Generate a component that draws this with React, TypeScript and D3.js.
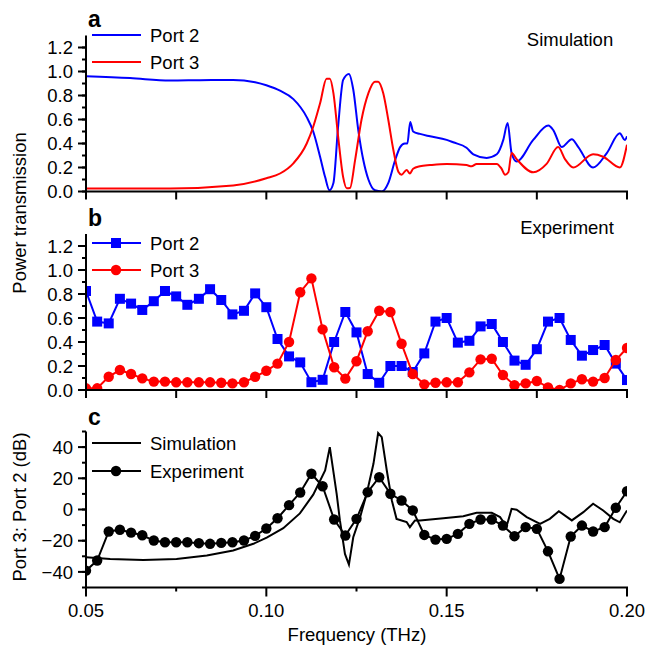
import { useRef, useEffect } from 'react';
import * as d3 from 'd3';

// simulation, panel a
const simP2Freq = [0.05, 0.0622, 0.0733, 0.0816, 0.0908, 0.0969, 0.1, 0.1038, 0.1075, 0.1112, 0.113, 0.1149, 0.1163, 0.1175, 0.1186, 0.1199, 0.1213, 0.1229, 0.1241, 0.1255, 0.1269, 0.1283, 0.1301, 0.132, 0.1338, 0.1357, 0.1371, 0.1384, 0.1391, 0.1399, 0.1407, 0.1426, 0.1454, 0.15, 0.1518, 0.1555, 0.1574, 0.1611, 0.1639, 0.1657, 0.1669, 0.168, 0.1694, 0.174, 0.1782, 0.1796, 0.1819, 0.1847, 0.1865, 0.1906, 0.1944, 0.198, 0.1994, 0.2];
const simP2 = [0.96, 0.945, 0.925, 0.928, 0.93, 0.91, 0.885, 0.84, 0.77, 0.62, 0.5, 0.29, 0.12, 0.01, 0.07, 0.54, 0.93, 0.98, 0.85, 0.51, 0.26, 0.1, 0.01, 0.0, 0.07, 0.26, 0.37, 0.4, 0.4, 0.58, 0.5, 0.48, 0.46, 0.43, 0.41, 0.365, 0.31, 0.28, 0.31, 0.43, 0.57, 0.32, 0.25, 0.43, 0.55, 0.51, 0.37, 0.435, 0.37, 0.2, 0.32, 0.485, 0.43, 0.46];
const simP3Freq = [0.05, 0.0733, 0.0908, 0.1, 0.1038, 0.1075, 0.1112, 0.113, 0.1149, 0.1167, 0.1176, 0.1186, 0.1199, 0.1213, 0.1223, 0.1232, 0.1246, 0.1264, 0.1283, 0.1301, 0.131, 0.1324, 0.1338, 0.1352, 0.1366, 0.1375, 0.1389, 0.1398, 0.1407, 0.1426, 0.1454, 0.15, 0.1555, 0.1569, 0.1583, 0.1639, 0.1652, 0.1662, 0.1671, 0.168, 0.1694, 0.174, 0.1777, 0.1809, 0.1828, 0.1851, 0.1906, 0.1934, 0.198, 0.2];
const simP3 = [0.025, 0.025, 0.05, 0.11, 0.15, 0.235, 0.4, 0.54, 0.735, 0.94, 0.94, 0.82, 0.46, 0.12, 0.027, 0.03, 0.26, 0.6, 0.82, 0.915, 0.915, 0.82, 0.6, 0.35, 0.165, 0.14, 0.18, 0.15, 0.19, 0.21, 0.22, 0.23, 0.22, 0.21, 0.23, 0.23, 0.19, 0.14, 0.16, 0.32, 0.27, 0.16, 0.23, 0.37, 0.27, 0.2, 0.31, 0.29, 0.2, 0.39];

// experiment, panels b and c
const expFreq = [0.05, 0.0531, 0.0563, 0.0594, 0.0625, 0.0656, 0.0688, 0.0719, 0.075, 0.0781, 0.0813, 0.0844, 0.0875, 0.0906, 0.0938, 0.0969, 0.1, 0.1031, 0.1063, 0.1094, 0.1125, 0.1156, 0.1188, 0.1219, 0.125, 0.1281, 0.1313, 0.1344, 0.1375, 0.1406, 0.1438, 0.1469, 0.15, 0.1531, 0.1563, 0.1594, 0.1625, 0.1656, 0.1688, 0.1719, 0.175, 0.1781, 0.1813, 0.1844, 0.1875, 0.1906, 0.1938, 0.1969, 0.2];
const expP2 = [0.825, 0.57, 0.555, 0.76, 0.72, 0.667, 0.74, 0.825, 0.78, 0.71, 0.76, 0.84, 0.75, 0.63, 0.66, 0.805, 0.69, 0.425, 0.28, 0.23, 0.065, 0.085, 0.4, 0.65, 0.48, 0.133, 0.06, 0.2, 0.2, 0.15, 0.305, 0.57, 0.6, 0.395, 0.41, 0.53, 0.55, 0.4, 0.245, 0.21, 0.34, 0.57, 0.6, 0.417, 0.286, 0.333, 0.375, 0.22, 0.083];
const expP3 = [0.014, 0.014, 0.11, 0.167, 0.133, 0.097, 0.07, 0.07, 0.064, 0.064, 0.064, 0.064, 0.06, 0.055, 0.065, 0.11, 0.16, 0.22, 0.4, 0.815, 0.93, 0.505, 0.19, 0.095, 0.24, 0.49, 0.66, 0.65, 0.385, 0.133, 0.047, 0.06, 0.064, 0.064, 0.147, 0.255, 0.26, 0.125, 0.04, 0.055, 0.075, 0.022, 0.0, 0.055, 0.09, 0.07, 0.1, 0.25, 0.35];
const expRatio = [-39.2, -32.7, -14.1, -13.0, -14.8, -16.5, -19.9, -21, -21, -21, -21.6, -22, -21.4, -21, -19.9, -16.9, -12.2, -5.6, 2.8, 10.9, 22.9, 14.9, -6.4, -16.7, -6, 11.1, 20.7, 10.1, 5.8, -0.6, -16.3, -19.3, -18.8, -15.6, -9.2, -6.4, -6.4, -10.3, -17.1, -11.3, -12.4, -26.8, -44.5, -17.3, -10.3, -14.1, -11.3, 1.1, 11.7];

// simulation ratio, panel c
const simRatioFreq = [0.05, 0.0567, 0.0659, 0.0751, 0.0835, 0.0908, 0.0964, 0.1001, 0.1047, 0.1093, 0.113, 0.1163, 0.1176, 0.1195, 0.1204, 0.1218, 0.1229, 0.1241, 0.126, 0.1278, 0.1297, 0.131, 0.132, 0.1334, 0.1348, 0.1361, 0.1375, 0.1389, 0.1398, 0.1412, 0.1426, 0.1491, 0.1546, 0.1583, 0.1625, 0.1648, 0.1666, 0.168, 0.1694, 0.1722, 0.1759, 0.1786, 0.1811, 0.1847, 0.1879, 0.1906, 0.1934, 0.1962, 0.198, 0.2];
const simRatio = [-30.6, -31.7, -32.3, -31.7, -29.5, -26.3, -22, -18, -12, -2.5, 9.5, 25, 40, 10, -7, -28.5, -35.3, -17.8, -4.9, 10, 29.3, 49, 46.4, 25, 5.8, -6, -7, -8, -11.3, -7, -7, -5.6, -4.3, -2.1, -2.1, -4.9, -10.9, 0.4, -0.2, -4.9, -9.2, -6, -1.1, -7, -1.7, 3.7, -0.6, -6, -8.2, -0.6];

const xTicks = [0.05, 0.1, 0.15, 0.2];
const powerTicks = [0, 0.2, 0.4, 0.6, 0.8, 1.0, 1.2];
const dbTicks = [-40, -20, 0, 20, 40];

const BLUE = '#0000ff';
const RED = '#ff0000';
const FONT = "'Liberation Sans', Arial, Helvetica, sans-serif";
const FS = 18.5;

export default function App() {
  const svgRef = useRef<SVGSVGElement>(null);

  useEffect(() => {
    const svg = d3.select(svgRef.current);
    svg.selectAll('*').remove();

    const left = 86, right = 627;
    const x = d3.scaleLinear().domain([0.05, 0.2]).range([left, right]);

    const panels = [
      { id: 'a', y: d3.scaleLinear().domain([0, 1.3]).range([191.5, 35.5]) },
      { id: 'b', y: d3.scaleLinear().domain([0, 1.3]).range([390, 234]) },
      { id: 'c', y: d3.scaleLinear().domain([-50, 50]).range([587.5, 431.5]) },
    ];

    const defs = svg.append('defs');
    panels.forEach(p => {
      const [b, t] = p.y.range();
      defs.append('clipPath').attr('id', 'clip-' + p.id)
        .append('rect').attr('x', left).attr('y', t - 2).attr('width', right - left).attr('height', b - t + 2);
    });

    const line = (ys: d3.ScaleLinear<number, number>, curve = d3.curveLinear) =>
      d3.line<[number, number]>().x(d => x(d[0])).y(d => ys(d[1])).curve(curve);

    const zip = (a: number[], b: number[]) => a.map((v, i) => [v, b[i]] as [number, number]);

    // panel a
    const pa = panels[0];
    const ga = svg.append('g').attr('clip-path', 'url(#clip-a)');
    ga.append('path').attr('d', line(pa.y, d3.curveMonotoneX)(zip(simP2Freq, simP2)))
      .attr('fill', 'none').attr('stroke', BLUE).attr('stroke-width', 2);
    ga.append('path').attr('d', line(pa.y, d3.curveMonotoneX)(zip(simP3Freq, simP3)))
      .attr('fill', 'none').attr('stroke', RED).attr('stroke-width', 2);

    // panel b
    const pb = panels[1];
    const gb = svg.append('g').attr('clip-path', 'url(#clip-b)');
    gb.append('path').attr('d', line(pb.y)(zip(expFreq, expP2)))
      .attr('fill', 'none').attr('stroke', BLUE).attr('stroke-width', 2);
    gb.selectAll('rect.p2').data(zip(expFreq, expP2)).enter().append('rect')
      .attr('x', d => x(d[0]) - 5).attr('y', d => pb.y(d[1]) - 5)
      .attr('width', 10).attr('height', 10).attr('fill', BLUE);
    gb.append('path').attr('d', line(pb.y)(zip(expFreq, expP3)))
      .attr('fill', 'none').attr('stroke', RED).attr('stroke-width', 2);
    gb.selectAll('circle.p3').data(zip(expFreq, expP3)).enter().append('circle')
      .attr('cx', d => x(d[0])).attr('cy', d => pb.y(d[1])).attr('r', 5.2).attr('fill', RED);

    // panel c
    const pc = panels[2];
    const gc = svg.append('g').attr('clip-path', 'url(#clip-c)');
    gc.append('path').attr('d', line(pc.y)(zip(simRatioFreq, simRatio)))
      .attr('fill', 'none').attr('stroke', '#000').attr('stroke-width', 2);
    gc.append('path').attr('d', line(pc.y)(zip(expFreq, expRatio)))
      .attr('fill', 'none').attr('stroke', '#000').attr('stroke-width', 2);
    gc.selectAll('circle.ex').data(zip(expFreq, expRatio)).enter().append('circle')
      .attr('cx', d => x(d[0])).attr('cy', d => pc.y(d[1])).attr('r', 5.2).attr('fill', '#000');

    // axes
    panels.forEach((p, pi) => {
      const [b, t] = p.y.range();
      const g = svg.append('g').attr('stroke', '#000').attr('stroke-width', 2);
      g.append('line').attr('x1', left).attr('x2', left).attr('y1', t).attr('y2', b + 1);
      g.append('line').attr('x1', left - 1).attr('x2', right + 1).attr('y1', b).attr('y2', b);
      // x ticks
      d3.range(0.05, 0.2001, 0.025).forEach((v, i) => {
        const len = pi < 2 ? 8 : (i % 2 === 0 ? 9 : 4);
        g.append('line').attr('x1', x(v)).attr('x2', x(v)).attr('y1', b).attr('y2', b + len);
      });
      // y ticks
      const isDb = pi === 2;
      const minor = isDb ? d3.range(-50, 50.1, 10) : d3.range(0, 1.3, 0.1);
      minor.forEach(v => {
        g.append('line').attr('x1', left - 4).attr('x2', left).attr('y1', p.y(v)).attr('y2', p.y(v));
      });
      const major = isDb ? dbTicks : powerTicks;
      major.forEach(v => {
        g.append('line').attr('x1', left - 8).attr('x2', left).attr('y1', p.y(v)).attr('y2', p.y(v));
      });
      const tl = svg.append('g').attr('font-family', FONT).attr('font-size', FS).attr('fill', '#000');
      major.forEach(v => {
        tl.append('text').attr('x', 73).attr('y', p.y(v)).attr('dy', '0.36em').attr('text-anchor', 'end')
          .text(isDb ? (v < 0 ? '\u2212' + Math.abs(v) : String(v)) : v.toFixed(1));
      });
      svg.append('text').attr('x', 88).attr('y', [27, 226, 425][pi]).attr('font-family', FONT)
        .attr('font-weight', 'bold').attr('font-size', 23).text(p.id);
    });

    // x tick labels and titles
    const xt = svg.append('g').attr('font-family', FONT).attr('font-size', FS).attr('fill', '#000');
    xTicks.forEach(v => {
      xt.append('text').attr('x', x(v)).attr('y', 617).attr('text-anchor', 'middle').text(v.toFixed(2));
    });
    xt.append('text').attr('x', 357).attr('y', 641).attr('text-anchor', 'middle').text('Frequency (THz)');
    xt.append('text').attr('transform', 'translate(26,213) rotate(-90)').attr('text-anchor', 'middle').text('Power transmission');
    xt.append('text').attr('transform', 'translate(26,507) rotate(-90)').attr('text-anchor', 'middle').text('Port 3: Port 2 (dB)');
    xt.append('text').attr('x', 570).attr('y', 46).attr('text-anchor', 'middle').text('Simulation');
    xt.append('text').attr('x', 567).attr('y', 234).attr('text-anchor', 'middle').text('Experiment');

    // legends
    const leg = svg.append('g').attr('font-family', FONT).attr('font-size', FS).attr('fill', '#000');
    const entry = (y: number, color: string, label: string, marker: string | null) => {
      leg.append('line').attr('x1', 92).attr('x2', 141).attr('y1', y).attr('y2', y)
        .attr('stroke', color).attr('stroke-width', 2);
      if (marker === 'square') leg.append('rect').attr('x', 111).attr('y', y - 5).attr('width', 10).attr('height', 10).attr('fill', color);
      if (marker === 'circle') leg.append('circle').attr('cx', 116).attr('cy', y).attr('r', 5.2).attr('fill', color);
      leg.append('text').attr('x', 150).attr('y', y).attr('dy', '0.36em').text(label);
    };
    entry(35, BLUE, 'Port 2', null);
    entry(62, RED, 'Port 3', null);
    entry(243, BLUE, 'Port 2', 'square');
    entry(270, RED, 'Port 3', 'circle');
    entry(443, '#000', 'Simulation', null);
    entry(471, '#000', 'Experiment', 'circle');
  }, []);

  return (
    <svg ref={svgRef} width={647} height={648}
      style={{ position: 'absolute', left: 0, top: 0, background: '#fff' }} />
  );
}
